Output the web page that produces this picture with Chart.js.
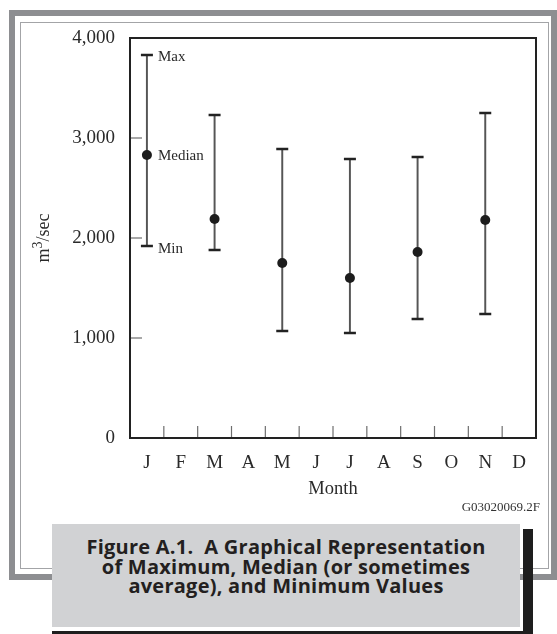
<!DOCTYPE html>
<html>
<head>
<meta charset="utf-8">
<script src="https://cdn.jsdelivr.net/npm/chart.js@4.4.0/dist/chart.umd.min.js"></script>
<style>
  body { margin: 0; background: #fff; }
  #page { position: relative; width: 557px; height: 634px; overflow: hidden; }
  .outer { position: absolute; left: 9px; top: 10px; width: 548px; height: 570px; border: 6px solid #8d8e91; box-sizing: border-box; }
  .inner { position: absolute; left: 20px; top: 22px; width: 529px; height: 547px; border: 1.2px solid #a3a4a7; box-sizing: border-box; }
  #chart { position: absolute; left: 0; top: 0; }
  .code { position: absolute; right: 17px; top: 499px; font: 13px "Liberation Serif"; color: #333; }
  .shadow-r { position: absolute; left: 523px; top: 529px; width: 10px; height: 110px; background: #1e1e1e; }
  .shadow-b { position: absolute; left: 52px; top: 631px; width: 481px; height: 10px; background: #1e1e1e; }
  .caption { position: absolute; left: 52px; top: 524px; width: 468px; height: 103px; background: #d1d2d4;
             box-sizing: border-box; padding-top: 13px; text-align: center; font: bold 20px "Open Sans"; line-height: 19.5px;
             letter-spacing: 0.25px; color: #231f20; }
</style>
</head>
<body>
<div id="page">
  <div class="outer"></div>
  <div class="inner"></div>
  <canvas id="chart" width="557" height="634"></canvas>
  <div class="code">G03020069.2F</div>
  <div class="shadow-r"></div>
  <div class="shadow-b"></div>
  <div class="caption">Figure A.1.&nbsp; A Graphical Representation<br>of Maximum, Median (or sometimes<br>average), and Minimum Values</div>
</div>
<script>
// data (m3/sec)
const months = ['Jan', 'Feb', 'Mar', 'Apr', 'May', 'Jun', 'Jul', 'Aug', 'Sep', 'Oct', 'Nov', 'Dec'];
const shownMonths = ['Jan', 'Mar', 'May', 'Jul', 'Sep', 'Nov'];
const maxValues = [3830, 3230, 2890, 2790, 2810, 3250];
const medianValues = [2830, 2190, 1750, 1600, 1860, 2180];
const minValues = [1920, 1880, 1070, 1050, 1190, 1240];
const yTicks = [0, 1000, 2000, 3000, 4000];

Chart.defaults.font.family = '"Liberation Serif", "Times New Roman", serif';
Chart.defaults.color = '#2a2a2a';

// plot box, inside tick marks, y title with superscript and the Max/Median/Min notes
const plotExtras = {
    id: 'plotExtras',
    afterDraw(chart) {
        const ctx = chart.ctx;
        const a = chart.chartArea;
        const xs = chart.scales.x;
        const ys = chart.scales.y;
        ctx.save();
        ctx.strokeStyle = '#6e6e6e';
        ctx.lineWidth = 1.2;
        yTicks.slice(1, -1).forEach(v => {
            const y = ys.getPixelForValue(v);
            ctx.beginPath();
            ctx.moveTo(a.left, y);
            ctx.lineTo(a.left + 12, y);
            ctx.stroke();
        });
        for (var i = 1; i < months.length; i++) {
            const x = (xs.getPixelForValue(i - 1) + xs.getPixelForValue(i)) / 2;
            ctx.beginPath();
            ctx.moveTo(x, a.bottom);
            ctx.lineTo(x, a.bottom - 12);
            ctx.stroke();
        }
        ctx.strokeStyle = '#222';
        ctx.lineWidth = 2;
        ctx.strokeRect(a.left, a.top, a.right - a.left, a.bottom - a.top);

        // y axis title: m3/sec with a raised 3
        ctx.fillStyle = '#2a2a2a';
        ctx.translate(44, (a.top + a.bottom) / 2);
        ctx.rotate(-Math.PI / 2);
        ctx.textBaseline = 'middle';
        ctx.textAlign = 'left';
        const big = '18px "Liberation Serif"';
        const small = '14px "Liberation Serif"';
        ctx.font = big;
        const wm = ctx.measureText('m').width;
        const ws = ctx.measureText('/sec').width;
        ctx.font = small;
        const w3 = ctx.measureText('3').width;
        let tx = -(wm + w3 + ws) / 2;
        ctx.font = big;
        ctx.fillText('m', tx, 0);
        tx += wm;
        ctx.font = small;
        ctx.fillText('3', tx, -6);
        tx += w3;
        ctx.font = big;
        ctx.fillText('/sec', tx, 0);
        ctx.setTransform(1, 0, 0, 1, 0, 0);

        // labels next to the first bar
        const x0 = xs.getPixelForValue(0) + 11;
        ctx.font = '15px "Liberation Serif"';
        ctx.textAlign = 'left';
        ctx.textBaseline = 'middle';
        ctx.fillText('Max', x0, ys.getPixelForValue(maxValues[0]) + 2);
        ctx.fillText('Median', x0, ys.getPixelForValue(medianValues[0]) + 1);
        ctx.fillText('Min', x0, ys.getPixelForValue(minValues[0]) + 3);
        ctx.restore();
    }
};

var ctx = document.getElementById('chart').getContext('2d');
var myChart = new Chart(ctx, {
    type: 'bar',
    data: {
        labels: months,
        datasets: [{
            label: 'Range',
            data: shownMonths.map((m, i) => ({ x: m, y: [minValues[i], maxValues[i]] })),
            backgroundColor: '#555',
            barThickness: 1.3,
            order: 3
        }, {
            type: 'line',
            label: 'Max',
            data: shownMonths.map((m, i) => ({ x: m, y: maxValues[i] })),
            showLine: false,
            pointStyle: 'line',
            pointRadius: 6,
            borderWidth: 2.5,
            borderColor: '#222',
            order: 2
        }, {
            type: 'line',
            label: 'Min',
            data: shownMonths.map((m, i) => ({ x: m, y: minValues[i] })),
            showLine: false,
            pointStyle: 'line',
            pointRadius: 6,
            borderWidth: 2.5,
            borderColor: '#222',
            order: 2
        }, {
            type: 'line',
            label: 'Median',
            data: shownMonths.map((m, i) => ({ x: m, y: medianValues[i] })),
            showLine: false,
            pointStyle: 'circle',
            pointRadius: 5,
            borderWidth: 0,
            backgroundColor: '#1c1c1c',
            borderColor: '#1c1c1c',
            order: 1
        }]
    },
    options: {
        responsive: false,
        animation: false,
        layout: { padding: { left: 0, top: 38, right: 21, bottom: 126 } },
        plugins: { legend: { display: false }, tooltip: { enabled: false } },
        scales: {
            x: {
                offset: true,
                grid: { display: false, drawTicks: false },
                border: { display: false },
                ticks: {
                    padding: 14,
                    autoSkip: false,
                    maxRotation: 0,
                    font: { size: 19 },
                    callback: (v, i) => months[i].charAt(0)
                },
                title: { display: true, text: 'Month', font: { size: 18.5 }, padding: { top: 0, bottom: 8 } },
                afterFit: s => { s.height = 70; }
            },
            y: {
                min: 0,
                max: 4000,
                grid: { display: false, drawTicks: false },
                border: { display: false },
                ticks: {
                    stepSize: 1000,
                    padding: 15,
                    font: { size: 19 },
                    callback: v => v.toLocaleString('en-US')
                },
                afterFit: s => { s.width = 130; }
            }
        }
    },
    plugins: [plotExtras]
});
</script>
</body>
</html>
